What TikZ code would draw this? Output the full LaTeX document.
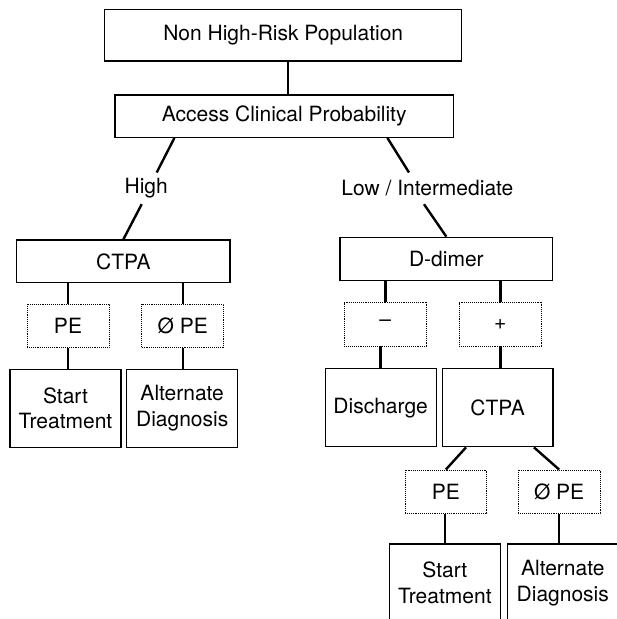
\documentclass[tikz,border=0pt]{standalone}
\usepackage{fontspec}
\setmainfont{TeX Gyre Heros}
\begin{document}
\begin{tikzpicture}[x=1pt,y=-1pt,
  every node/.style={font=\fontsize{21}{25.5}\selectfont, inner sep=0pt, align=center},
  box/.style={draw, line width=1.3pt, minimum width=#1},
  result/.style={draw, line width=0.8pt, dash pattern=on 1pt off 0.9pt, minimum width=82pt, minimum height=43.4pt},
  endbox/.style={draw, line width=1.3pt, minimum width=111pt, minimum height=78pt},
  branch/.style={minimum width=40pt, minimum height=31.3pt},
  link/.style={line width=2.4pt}]
\useasboundingbox (0,0) rectangle (617,619);

% top of the tree
\node[box=357pt, minimum height=51.7pt] (pop) at (283.2,35.15) {Non High-Risk Population};
\node[box=338.3pt, minimum height=42.3pt] (prob) at (284.2,116.15) {Access Clinical Probability};
\node[branch] (high) at (146.2,188.35) {High};
\node[branch] (low) at (427.4,188.35) {Low / Intermediate};

% high probability branch
\node[box=213.3pt, minimum height=42.7pt] (ctpaA) at (123.35,261.35) {CTPA};
\node[result] (peA) at (68,326) {PE};
\node[result] (nopeA) at (182.7,326) {Ø PE};
\node[endbox] (treatA) at (65.5,408.3) {Start\\Treatment};
\node[endbox] (altA) at (182.2,408.3) {Alternate\\Diagnosis};

% low / intermediate probability branch
\node[box=212.7pt, minimum height=43.4pt] (dd) at (446.35,259) {D-dimer};
\node[result] (neg) at (385.3,324.35) {\raisebox{1.3pt}{–}};
\node[result] (pos) at (500.3,324.35) {+};
\node[endbox] (home) at (380.65,407.7) {Discharge};
\node[endbox, minimum width=110.7pt] (ctpaB) at (497.65,407.7) {CTPA};
\node[result, minimum width=81.7pt] (peB) at (445.85,491.65) {PE};
\node[result, minimum width=81.7pt] (nopeB) at (559.15,491.65) {Ø PE};
\node[endbox] (treatB) at (444.8,583) {Start\\Treatment};
\node[endbox] (altB) at (562.8,583) {Alternate\\Diagnosis};

% connectors
\draw[link] ([xshift=4.5pt]pop.south) -- ([xshift=4.5pt]pop.south |- prob.north);
\draw[link] ([xshift=60pt]prob.south west) -- ([xshift=10.5pt]high.north);
\draw[link] ([xshift=-4.5pt]high.south) -- (ctpaA.north);
\draw[link] ([xshift=-66.6pt]prob.south east) -- ([xshift=-18.4pt]low.north);
\draw[link] ([xshift=-3.4pt]low.south) -- (dd.north);

\draw[link] (peA.north) -- (peA.north |- ctpaA.south);
\draw[link] (nopeA.north) -- (nopeA.north |- ctpaA.south);
\draw[link] (treatA.north -| peA.south) -- (peA.south);
\draw[link] (altA.north -| nopeA.south) -- (nopeA.south);

\draw[link] (neg.north) -- (neg.north |- dd.south);
\draw[link] (pos.north) -- (pos.north |- dd.south);
\draw[link] (home.north) -- (home.north |- neg.south);
\draw[link] (ctpaB.north -| pos.south) -- (pos.south);

\draw[link] ([xshift=24.4pt]ctpaB.south west) -- (peB.north);
\draw[link] ([xshift=-19.7pt]ctpaB.south east) -- (nopeB.north);
\draw[link] (treatB.north) -- (treatB.north |- peB.south);
\draw[link] (altB.north -| nopeB.south) -- (nopeB.south);
\end{tikzpicture}
\end{document}
